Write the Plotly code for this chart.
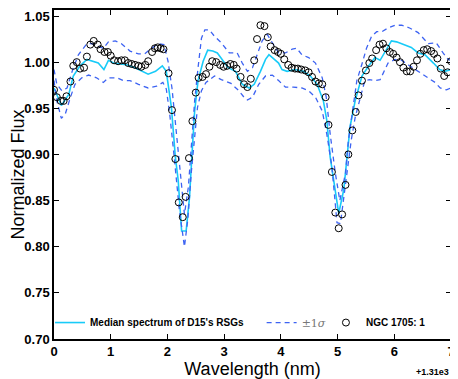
import plotly.graph_objects as go

# NGC 1705 observed points (wavelength offset from 1310 nm, normalized flux)
obs_wave = [0.00, 0.05, 0.12, 0.17, 0.22, 0.29, 0.34, 0.40, 0.46, 0.53, 0.58, 0.64, 0.70, 0.77,
            0.82, 0.89, 0.95, 1.00, 1.06, 1.13, 1.19, 1.25, 1.31, 1.37, 1.43, 1.49, 1.54, 1.61,
            1.66, 1.73, 1.78, 1.83, 1.88, 1.93, 2.02, 2.08, 2.14, 2.20, 2.27, 2.32, 2.38, 2.44,
            2.50, 2.55, 2.62, 2.68, 2.74, 2.79, 2.86, 2.93, 2.99, 3.05, 3.11, 3.17, 3.22, 3.29,
            3.35, 3.41, 3.47, 3.53, 3.58, 3.64, 3.71, 3.77, 3.82, 3.89, 3.95, 4.00, 4.06, 4.13,
            4.19, 4.25, 4.30, 4.36, 4.43, 4.49, 4.55, 4.61, 4.67, 4.73, 4.79, 4.84, 4.90, 4.96,
            5.02, 5.08, 5.14, 5.19, 5.26, 5.32, 5.37, 5.43, 5.50, 5.56, 5.61, 5.68, 5.74, 5.80,
            5.86, 5.92, 5.98, 6.04, 6.10, 6.16, 6.22, 6.28, 6.34, 6.40, 6.46, 6.52, 6.58, 6.65,
            6.70, 6.76, 6.82, 6.88, 6.94, 7.00]
obs_flux = [0.970, 0.962, 0.958, 0.958, 0.963, 0.979, 0.996, 1.000, 0.993, 0.994, 1.006, 1.019,
            1.023, 1.019, 1.014, 1.011, 1.011, 1.007, 1.002, 1.001, 1.002, 1.002, 0.999, 0.998,
            0.997, 0.996, 0.995, 0.997, 1.001, 1.011, 1.015, 1.016, 1.015, 1.014, 0.988, 0.948,
            0.895, 0.848, 0.832, 0.854, 0.896, 0.936, 0.967, 0.983, 0.984, 0.987, 0.995, 1.001,
            1.000, 0.997, 0.995, 0.996, 0.998, 0.997, 0.993, 0.984, 0.976, 0.973, 0.982, 1.002,
            1.025, 1.040, 1.039, 1.027, 1.017, 1.013, 1.011, 1.009, 1.003, 0.997, 0.994, 0.993,
            0.993, 0.992, 0.991, 0.989, 0.984, 0.979, 0.977, 0.976, 0.962, 0.932, 0.881, 0.837,
            0.820, 0.835, 0.867, 0.900, 0.926, 0.946, 0.964, 0.980, 0.991, 0.999, 1.004, 1.013,
            1.019, 1.020, 1.015, 1.011, 1.009, 1.005, 1.000, 0.994, 0.990, 0.990, 0.995, 1.002,
            1.009, 1.013, 1.014, 1.012, 1.009, 1.004, 0.993, 0.985, 0.989, 1.001]

# median spectrum of D15's RSGs
med_wave = [0.00, 0.13, 0.26, 0.34, 0.46, 0.58, 0.78, 0.88, 0.96, 1.05, 1.30, 1.43, 1.66, 1.79,
            1.91, 1.98, 2.07, 2.14, 2.19, 2.25, 2.33, 2.39, 2.43, 2.48, 2.54, 2.63, 2.71, 2.80,
            2.88, 3.07, 3.20, 3.32, 3.44, 3.53, 3.64, 3.73, 3.79, 3.88, 3.96, 4.02, 4.11, 4.25,
            4.40, 4.52, 4.64, 4.75, 4.81, 4.87, 4.95, 5.02, 5.11, 5.16, 5.22, 5.31, 5.43, 5.55,
            5.66, 5.75, 5.84, 5.95, 6.04, 6.18, 6.30, 6.42, 6.54, 6.69, 6.80, 6.89, 7.00]
med_flux = [0.972, 0.953, 0.965, 0.985, 0.996, 1.003, 0.999, 0.992, 1.002, 0.999, 0.997, 0.994,
            0.987, 0.990, 0.996, 0.990, 0.951, 0.897, 0.872, 0.817, 0.817, 0.854, 0.897, 0.947,
            0.980, 1.001, 1.013, 1.012, 1.010, 0.994, 0.990, 0.976, 0.972, 0.976, 0.990, 1.003,
            1.008, 1.003, 0.999, 0.992, 0.990, 0.992, 0.990, 0.985, 0.976, 0.958, 0.937, 0.897,
            0.865, 0.836, 0.862, 0.897, 0.930, 0.958, 0.985, 0.996, 1.005, 1.002, 1.012, 1.023,
            1.022, 1.019, 1.016, 1.010, 1.008, 0.999, 0.992, 0.990, 0.992]

# +1 sigma
up_wave = [0.00, 0.05, 0.14, 0.23, 0.32, 0.43, 0.58, 0.67, 0.78, 0.87, 0.96, 1.08, 1.19, 1.34,
           1.49, 1.60, 1.72, 1.84, 1.94, 2.01, 2.08, 2.16, 2.24, 2.30, 2.37, 2.43, 2.48, 2.54,
           2.60, 2.66, 2.74, 2.83, 2.95, 3.09, 3.23, 3.32, 3.41, 3.50, 3.58, 3.67, 3.76, 3.85,
           3.96, 4.08, 4.20, 4.28, 4.37, 4.49, 4.61, 4.73, 4.80, 4.87, 4.96, 5.04, 5.14, 5.19,
           5.26, 5.34, 5.43, 5.51, 5.60, 5.69, 5.78, 5.89, 6.01, 6.13, 6.27, 6.42, 6.60, 6.74,
           6.86, 6.95, 7.00]
up_flux = [0.992, 0.976, 0.969, 0.972, 0.990, 1.008, 1.020, 1.020, 1.017, 1.015, 1.022, 1.023,
           1.020, 1.012, 1.009, 1.009, 1.015, 1.020, 1.019, 1.001, 0.972, 0.923, 0.870, 0.835,
           0.865, 0.915, 0.958, 0.994, 1.026, 1.035, 1.035, 1.028, 1.021, 1.010, 1.010, 0.999,
           0.990, 0.994, 1.008, 1.023, 1.030, 1.021, 1.010, 1.010, 1.014, 1.015, 1.008, 1.005,
           0.999, 0.983, 0.962, 0.922, 0.880, 0.850, 0.880, 0.915, 0.947, 0.980, 0.998, 1.015,
           1.028, 1.033, 1.033, 1.037, 1.040, 1.040, 1.037, 1.032, 1.020, 1.021, 1.010, 1.003,
           1.002]

# -1 sigma
lo_wave = [0.00, 0.05, 0.13, 0.20, 0.29, 0.37, 0.49, 0.61, 0.75, 0.87, 0.96, 1.11, 1.22, 1.34,
           1.49, 1.66, 1.81, 1.92, 1.98, 2.04, 2.12, 2.21, 2.30, 2.36, 2.42, 2.47, 2.53, 2.60,
           2.68, 2.83, 2.95, 3.12, 3.26, 3.35, 3.41, 3.50, 3.61, 3.73, 3.85, 3.96, 4.08, 4.22,
           4.37, 4.49, 4.61, 4.73, 4.81, 4.90, 4.99, 5.05, 5.16, 5.24, 5.31, 5.40, 5.48, 5.56,
           5.66, 5.75, 5.81, 5.89, 6.01, 6.13, 6.27, 6.42, 6.60, 6.72, 6.81, 6.92, 7.00]
lo_flux = [0.980, 0.958, 0.939, 0.944, 0.962, 0.976, 0.983, 0.986, 0.983, 0.978, 0.983, 0.983,
           0.980, 0.980, 0.976, 0.972, 0.974, 0.978, 0.971, 0.944, 0.897, 0.840, 0.800, 0.830,
           0.880, 0.915, 0.951, 0.969, 0.978, 0.985, 0.981, 0.977, 0.969, 0.962, 0.959, 0.962,
           0.976, 0.985, 0.986, 0.980, 0.973, 0.973, 0.972, 0.969, 0.962, 0.947, 0.922, 0.887,
           0.826, 0.825, 0.880, 0.915, 0.940, 0.962, 0.980, 0.981, 0.980, 0.981, 0.989, 0.999,
           1.003, 1.002, 0.996, 0.990, 0.983, 0.978, 0.972, 0.970, 0.972]

y_ticks = [0.70, 0.75, 0.80, 0.85, 0.90, 0.95, 1.00, 1.05]
x_ticks = [0, 1, 2, 3, 4, 5, 6, 7]

cyan = "#18cbf8"
blue = "#3d63f2"

fig = go.Figure()
fig.add_trace(go.Scatter(x=med_wave, y=med_flux, mode="lines", line=dict(color=cyan, width=1.6),
                         name="Median spectrum of D15's RSGs", legend="legend"))
fig.add_trace(go.Scatter(x=up_wave, y=up_flux, mode="lines", line=dict(color=blue, width=1.3, dash="5px,4px"),
                         name="±1<i>σ</i>", legend="legend2"))
fig.add_trace(go.Scatter(x=lo_wave, y=lo_flux, mode="lines", line=dict(color=blue, width=1.3, dash="5px,4px"),
                         showlegend=False))
fig.add_trace(go.Scatter(x=obs_wave, y=obs_flux, mode="markers", cliponaxis=True,
                         marker=dict(symbol="circle-open", size=7, color="black", line=dict(width=1)),
                         name="NGC 1705: 1", legend="legend3"))

axis_common = dict(showline=True, linecolor="black", linewidth=1.5, mirror="allticks",
                   ticks="inside", ticklen=5, tickcolor="black", showgrid=False, zeroline=False,
                   tickfont=dict(family="Liberation Sans", size=13, color="black", weight="bold"))

fig.update_xaxes(range=[0, 7], tickvals=x_ticks, ticktext=[str(t) for t in x_ticks],
                 title=dict(text="Wavelength (nm)", font=dict(family="Liberation Sans", size=18, color="black"),
                            standoff=0), **axis_common)
fig.update_yaxes(range=[0.70, 1.0565], tickvals=y_ticks, ticktext=["%.2f" % t for t in y_ticks],
                 title=dict(text="Normalized Flux", font=dict(family="Liberation Sans", size=18, color="black"),
                            standoff=4), **axis_common)

leg_font = dict(family="Liberation Sans", size=10, color="black", weight="bold")
fig.update_layout(
    width=450, height=371,
    margin=dict(l=44, r=7, t=0, b=40),
    plot_bgcolor="white", paper_bgcolor="white",
    legend=dict(x=-0.01, y=0.05, xanchor="left", yanchor="middle", bgcolor="rgba(0,0,0,0)", font=leg_font),
    legend2=dict(x=0.523, y=0.05, xanchor="left", yanchor="middle", bgcolor="rgba(0,0,0,0)",
                 font=dict(family="DejaVu Serif", size=11, color="#777777")),
    legend3=dict(x=0.685, y=0.05, xanchor="left", yanchor="middle", bgcolor="rgba(0,0,0,0)", font=leg_font),
    annotations=[dict(text="+1.31e3", xref="paper", yref="paper", x=1.0, y=-0.10, xanchor="right",
                      yanchor="middle", showarrow=False,
                      font=dict(family="Liberation Sans", size=9, color="black", weight="bold"))],
)

fig.write_html("out.html")
